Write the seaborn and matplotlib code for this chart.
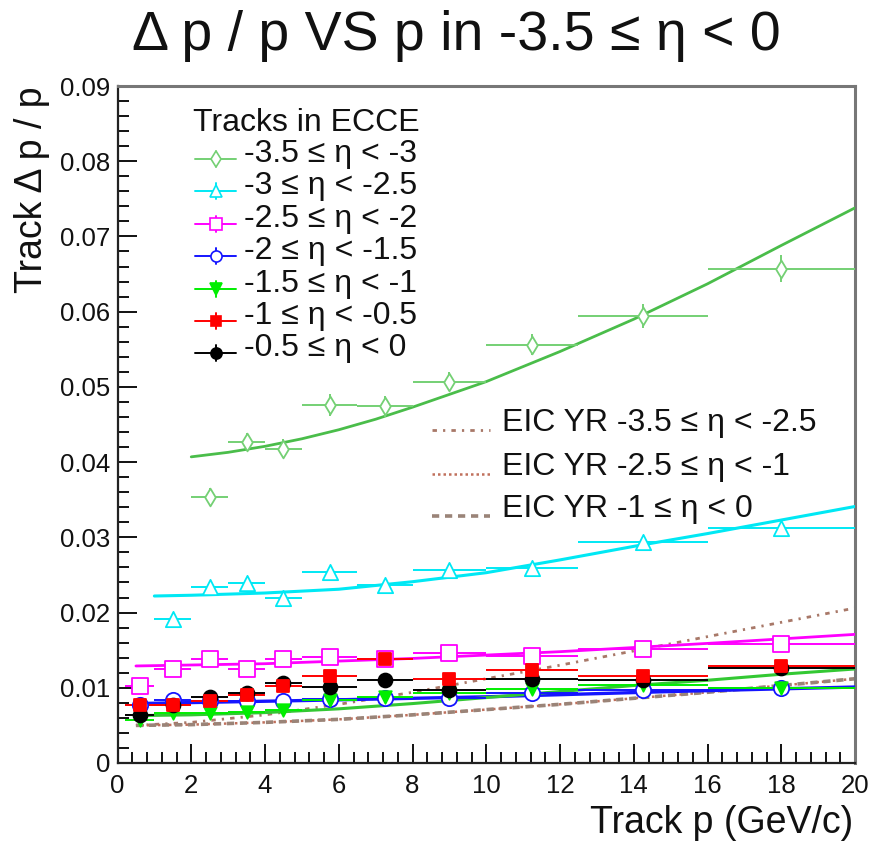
import matplotlib
matplotlib.use("Agg")
import matplotlib.pyplot as plt
from matplotlib.lines import Line2D
from matplotlib.ticker import MultipleLocator
import seaborn as sns
import pandas as pd

# ---------------- data ----------------
p_centers = [0.6, 1.5, 2.5, 3.5, 4.5, 5.75, 7.25, 9.0, 11.25, 14.25, 18.0]
p_halfwidth = [0.4, 0.5, 0.5, 0.5, 0.5, 0.75, 0.75, 1.0, 1.25, 1.75, 2.0]

labels = ["-3.5 ≤ η < -3", "-3 ≤ η < -2.5", "-2.5 ≤ η < -2", "-2 ≤ η < -1.5",
          "-1.5 ≤ η < -1", "-1 ≤ η < -0.5", "-0.5 ≤ η < 0"]

res_35_30 = [0.0353, 0.0427, 0.0418, 0.0476, 0.0474, 0.0507, 0.0556, 0.0594, 0.0657]  # from p=2.5
err_35_30 = [0.0012, 0.0012, 0.0013, 0.0015, 0.0014, 0.0013, 0.0014, 0.0016, 0.0018]
res_30_25 = [0.0192, 0.0234, 0.0239, 0.0219, 0.0254, 0.0236, 0.0257, 0.0259, 0.0294, 0.0312]  # from p=1.5
err_30_25 = [0.0004, 0.0004, 0.0004, 0.0004, 0.0004, 0.0004, 0.0004, 0.0004, 0.0005, 0.0005]
res_25_20 = [0.0103, 0.0125, 0.0138, 0.0125, 0.0138, 0.0141, 0.0138, 0.0146, 0.0142, 0.0151, 0.0158]
res_20_15 = [0.0077, 0.0084, 0.0082, 0.0083, 0.0083, 0.0085, 0.0086, 0.0086, 0.0093, 0.0097, 0.0100]
res_15_10 = [0.0057, 0.0066, 0.0066, 0.0068, 0.0071, 0.0084, 0.0088, 0.0093, 0.0098, 0.0104, 0.0100]
res_10_05 = [0.0077, 0.0077, 0.0082, 0.0091, 0.0103, 0.0115, 0.0138, 0.0112, 0.0124, 0.0115, 0.0129]
res_05_00 = [0.0064, 0.0077, 0.0088, 0.0093, 0.0106, 0.0101, 0.0111, 0.0097, 0.0112, 0.0111, 0.0126]
err_small = [0.0003, 0.0003, 0.0003, 0.0003, 0.0003, 0.0003, 0.0008, 0.0003, 0.0004, 0.0004, 0.0004]

# fit curves
fit_p_35_30 = [2, 3, 4, 5, 6, 7, 8, 9, 10, 12, 14, 16, 18, 20]
fit_35_30 = [0.0407, 0.0413, 0.0421, 0.0431, 0.0443, 0.0457, 0.0473, 0.0490, 0.0507,
             0.0547, 0.0590, 0.0637, 0.0688, 0.0738]
fit_p_30_25 = [1, 2, 4, 6, 8, 10, 12, 14, 16, 18, 20]
fit_30_25 = [0.0222, 0.0223, 0.0226, 0.0231, 0.0241, 0.0253, 0.0270, 0.0288, 0.0305, 0.0323, 0.0341]
fit_p_25_20 = [0.5, 4, 8, 12, 16, 20]
fit_25_20 = [0.0129, 0.0132, 0.0139, 0.0148, 0.0159, 0.0171]
fit_p_20_15 = [0.5, 5, 10, 15, 20]
fit_20_15 = [0.0079, 0.0083, 0.0088, 0.0095, 0.0101]
fit_p_15_10 = [0.5, 2, 4, 6, 8, 10, 12, 14, 16, 18, 20]
fit_15_10 = [0.0063, 0.0064, 0.0067, 0.0072, 0.0079, 0.0087, 0.0095, 0.0103, 0.0110, 0.0118, 0.0125]

# EIC Yellow Report requirement curves
yr_p = [0.5, 2, 4, 6, 8, 10, 12, 14, 16, 18, 20]
yr_35_25 = [0.0050, 0.0054, 0.0064, 0.0078, 0.0094, 0.0112, 0.0130, 0.0149, 0.0168, 0.0187, 0.0206]
yr_25_10 = [0.0050, 0.0051, 0.0054, 0.0058, 0.0064, 0.0071, 0.0078, 0.0086, 0.0094, 0.0103, 0.0112]
yr_10_00 = [0.0050, 0.0051, 0.0054, 0.0058, 0.0064, 0.0071, 0.0078, 0.0086, 0.0094, 0.0103, 0.0112]
yr_labels = ["EIC YR -3.5 ≤ η < -2.5", "EIC YR -2.5 ≤ η < -1", "EIC YR -1 ≤ η < 0"]

# ---------------- style ----------------
sns.set_theme(style="white")
plt.rcParams['font.family'] = ['Liberation Sans', 'DejaVu Sans']

W, H = 874, 859
fig = plt.figure(figsize=(W / 100, H / 100), dpi=100)
L, R, B, T = 117.5, 855, 763, 86
ax = fig.add_axes([L / W, 1 - B / H, (R - L) / W, (B - T) / H])
ax.set_xlim(0, 20)
ax.set_ylim(0, 0.09)

c_lgreen = "#74d074"
c_lgreen_fit = "#4abd4a"
c_cyan = "#00e8f4"
c_mag = "#ff00ff"
c_blue = "#1515ff"
c_green = "#00ee00"
c_green_fit = "#33c833"
c_red = "#ff0000"
c_black = "#000000"
c_yr1 = "#a87868"
c_yr2 = "#c0705c"
c_yr3 = "#9a8478"

ls_yr1 = (0, (1.6, 2.2, 0.8, 2.2))
ls_yr2 = (0, (1, 1.2))
ls_yr3 = (0, (2.0, 1.6))


def fitline(xs, ys, color, lw=2.0):
    sns.lineplot(x=xs, y=ys, ax=ax, color=color, linewidth=lw, sort=False,
                 legend=False, zorder=3)


def points(xs, ys, xerr, yerr, color, marker, filled, ms):
    ax.errorbar(xs, ys, xerr=xerr, yerr=yerr, fmt="none", ecolor=color,
                elinewidth=1.4, capsize=0, zorder=4)
    df = pd.DataFrame({"p": xs, "v": ys})
    sns.scatterplot(data=df, x="p", y="v", ax=ax, marker=marker, s=ms ** 2,
                    facecolor=(color if filled else "white"), edgecolor=color,
                    linewidth=1.3, legend=False, zorder=5)


# EIC YR lines
sns.lineplot(x=yr_p, y=yr_35_25, ax=ax, color=c_yr1, linewidth=2.0, legend=False, zorder=2)
ax.lines[-1].set_linestyle(ls_yr1)
sns.lineplot(x=yr_p, y=yr_25_10, ax=ax, color=c_yr2, linewidth=1.8, legend=False, zorder=2)
ax.lines[-1].set_linestyle(ls_yr2)
sns.lineplot(x=yr_p, y=yr_10_00, ax=ax, color=c_yr3, linewidth=2.6, legend=False, zorder=2)
ax.lines[-1].set_linestyle(ls_yr3)

# fits
fitline(fit_p_35_30, fit_35_30, c_lgreen_fit)
fitline(fit_p_30_25, fit_30_25, c_cyan, 2.2)
fitline(fit_p_25_20, fit_25_20, c_mag)
fitline(fit_p_20_15, fit_20_15, c_blue, 2.4)
fitline(fit_p_15_10, fit_15_10, c_green_fit, 2.2)

# points
points(p_centers[2:], res_35_30, p_halfwidth[2:], err_35_30, c_lgreen, "d", False, 9)
points(p_centers[1:], res_30_25, p_halfwidth[1:], err_30_25, c_cyan, "^", False, 11)
points(p_centers, res_25_20, p_halfwidth, err_small, c_mag, "s", False, 11)
points(p_centers, res_20_15, p_halfwidth, err_small, c_blue, "o", False, 11)
points(p_centers, res_15_10, p_halfwidth, err_small, c_green, "v", True, 9)
points(p_centers, res_05_00, p_halfwidth, err_small, c_black, "o", True, 10)
points(p_centers, res_10_05, p_halfwidth, err_small, c_red, "s", True, 9)

# ---------------- axes cosmetics ----------------
ax.xaxis.set_major_locator(MultipleLocator(2))
ax.xaxis.set_minor_locator(MultipleLocator(0.4))
ax.yaxis.set_major_locator(MultipleLocator(0.01))
ax.yaxis.set_minor_locator(MultipleLocator(0.002))
ax.set_xticklabels([f"{int(v)}" for v in ax.get_xticks()])
ax.set_yticklabels(["0" if abs(v) < 1e-9 else f"{v:.2f}" for v in ax.get_yticks()])
ax.tick_params(which="both", direction="in", top=False, right=False,
               bottom=True, left=True, labelsize=18.5, colors="#111111", width=1.4)
ax.tick_params(which="major", length=14, pad=5)
ax.tick_params(which="minor", length=8)
ax.tick_params(axis="x", which="major", pad=8)
ax.set_xlabel("")
ax.set_ylabel("")
for s in ["left", "bottom"]:
    ax.spines[s].set_color("#222222")
    ax.spines[s].set_linewidth(1.6)
for s in ["top", "right"]:
    ax.spines[s].set_color("#777777")
    ax.spines[s].set_linewidth(2.2)
    ax.spines[s].set_visible(True)

# titles
fig.text(456 / W, 1 - 36 / H, "Δ p / p VS p in -3.5 ≤ η < 0", ha="center", va="center",
         fontsize=40, color="#111111")
fig.text(853 / W, 1 - 823 / H, "Track p (GeV/c)", ha="right", va="center",
         fontsize=27, color="#111111")
fig.text(32 / W, 1 - 86 / H, "Track Δ p / p", ha="center", va="top", rotation=90,
         fontsize=27, color="#111111")

# ---------------- legends (manual, ROOT-like) ----------------
def ax_xy(px, py):
    return ((px - L) / (R - L), (B - py) / (B - T))


tr = ax.transAxes
hx, hy = ax_xy(193, 123)
ax.text(hx, hy, "Tracks in ECCE", transform=tr, ha="left", va="center",
        fontsize=23, color="#111111")
leg_specs = [(c_lgreen, "d", False, 8), (c_cyan, "^", False, 9), (c_mag, "s", False, 8),
             (c_blue, "o", False, 8), (c_green, "v", True, 8), (c_red, "s", True, 7),
             (c_black, "o", True, 8)]
row_y = [154, 186, 219, 251, 284, 316, 348]
for (col, mk, filled, ms), lab, ry in zip(leg_specs, labels, row_y):
    x0, y0 = ax_xy(195, ry + 5)
    x1, _ = ax_xy(236, ry + 5)
    xm, _ = ax_xy(216, ry + 5)
    _, ya = ax_xy(0, ry - 3)
    _, yb = ax_xy(0, ry + 13)
    ax.add_line(Line2D([x0, x1], [y0, y0], transform=tr, color=col, lw=1.4))
    ax.add_line(Line2D([xm, xm], [ya, yb], transform=tr, color=col, lw=1.4))
    ax.add_line(Line2D([xm], [y0], transform=tr, marker=mk, ms=ms, color=col,
                       markerfacecolor=(col if filled else "white"), markeredgecolor=col,
                       markeredgewidth=1.2, linestyle="none"))
    tx, ty = ax_xy(244, ry)
    ax.text(tx, ty, lab, transform=tr, ha="left", va="center", fontsize=23,
            color="#111111")

yr_styles = [(c_yr1, ls_yr1, 2.0), (c_yr2, ls_yr2, 1.8), (c_yr3, ls_yr3, 2.6)]
yr_rows = [423, 467, 509]
for (col, ls, lw), lab, ry in zip(yr_styles, yr_labels, yr_rows):
    x0, y0 = ax_xy(432, ry + 7)
    x1, _ = ax_xy(490, ry + 7)
    ax.add_line(Line2D([x0, x1], [y0, y0], transform=tr, color=col, lw=lw, linestyle=ls))
    tx, ty = ax_xy(502, ry)
    ax.text(tx, ty, lab, transform=tr, ha="left", va="center", fontsize=23,
            color="#111111")

fig.savefig("out.png", dpi=100, facecolor="white")
